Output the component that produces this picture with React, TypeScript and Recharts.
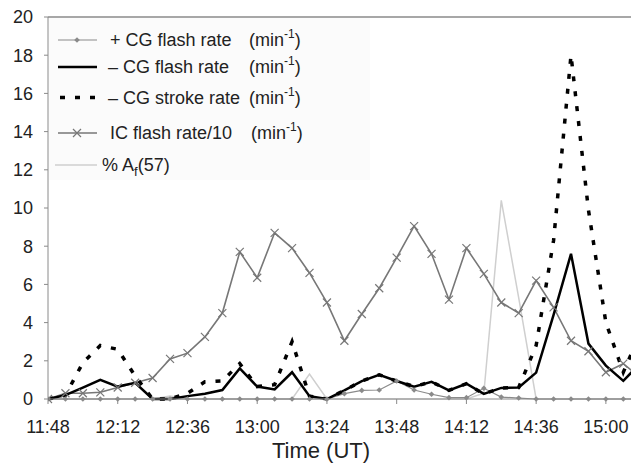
import React from 'react';
import { LineChart, Line, XAxis, YAxis, ReferenceLine } from 'recharts';

const times = [
  '11:48', '11:54', '12:00', '12:06', '12:12', '12:18', '12:24', '12:30', '12:36', '12:42',
  '12:48', '12:54', '13:00', '13:06', '13:12', '13:18', '13:24', '13:30', '13:36', '13:42',
  '13:48', '13:54', '14:00', '14:06', '14:12', '14:18', '14:24', '14:30', '14:36', '14:42',
  '14:48', '14:54', '15:00', '15:06', '15:12',
];
const plusCgFlash = [
  0, 0, 0, 0, 0, 0, 0, 0, 0, 0,
  0, 0, 0, 0, 0, 0, 0, 0.28, 0.45, 0.47,
  0.94, 0.47, 0.25, 0.07, 0.07, 0.56, 0.1, 0.05, 0, 0,
  0, 0, 0, 0, 0,
];
const minusCgFlash = [
  0, 0.2, 0.6, 1.0, 0.65, 0.85, 0, 0, 0.15, 0.28,
  0.47, 1.6, 0.65, 0.5, 1.4, 0.15, 0, 0.45, 0.94, 1.27,
  0.94, 0.65, 0.9, 0.45, 0.8, 0.27, 0.58, 0.6, 1.38, 4.4,
  7.6, 2.9, 1.75, 0.95, 1.9,
];
const minusCgStroke = [
  0, 0.2, 1.9, 2.8, 2.6, 1.2, 0, 0, 0.3, 0.9,
  0.95, 1.85, 0.65, 0.75, 3.0, 0.15, 0, 0.45, 0.94, 1.27,
  0.94, 0.65, 0.9, 0.45, 0.8, 0.27, 0.58, 0.6, 2.8, 8.3,
  18.0, 9.9, 4.0, 1.4, 3.5,
];
const icFlashDiv10 = [
  0, 0.3, 0.3, 0.35, 0.6, 0.85, 1.1, 2.1, 2.4, 3.25,
  4.5, 7.7, 6.35, 8.7, 7.9, 6.6, 5.05, 3.05, 4.45, 5.8,
  7.4, 9.05, 7.6, 5.2, 7.9, 6.55, 5.05, 4.5, 6.2, 4.8,
  3.05, 2.5, 1.4, 1.85, 1.1,
];
const afPercent = [
  0, 0, 0, 0, 0, 0, 0, 0.15, 0, 0,
  0, 0, 0, 0, 0, 1.3, 0, 0, 0, 0,
  0, 0, 0, 0, 0, 0.3, 10.4, 5.3, 0, 0,
  0, 0, 0, 0, 0,
];
const xTickLabels = ['11:48', '12:12', '12:36', '13:00', '13:24', '13:48', '14:12', '14:36', '15:00'];
const yTicks = [0, 2, 4, 6, 8, 10, 12, 14, 16, 18, 20];

const START = 11 * 60 + 48;
const toMin = (s: string) => {
  const [h, m] = s.split(':').map(Number);
  return h * 60 + m - START;
};
const fromMin = (v: number) => {
  const t = v + START;
  const h = Math.floor(t / 60);
  const m = t % 60;
  return `${h}:${m < 10 ? '0' + m : m}`;
};

const data = times.map((t, i) => ({
  t: toMin(t),
  plus: plusCgFlash[i],
  minusFlash: minusCgFlash[i],
  minusStroke: minusCgStroke[i],
  ic: icFlashDiv10[i],
  af: afPercent[i],
}));
const xTicks = xTickLabels.map(toMin);

const FONT = '"Liberation Sans", Arial, Helvetica, sans-serif';
const AXIS = '#8a8a8a';
const TXT = '#222';
const LF = 18;

const XDot = (props: any) => {
  const { cx, cy, index } = props;
  if (cx == null || cy == null) return <g key={`icx-${index}`} />;
  const r = 4;
  return (
    <path
      key={`icx-${index}`}
      d={`M${cx - r},${cy - r}L${cx + r},${cy + r}M${cx - r},${cy + r}L${cx + r},${cy - r}`}
      stroke="#777"
      strokeWidth={1.2}
      fill="none"
    />
  );
};

const DiamondDot = (props: any) => {
  const { cx, cy, index } = props;
  if (cx == null || cy == null) return <g key={`pd-${index}`} />;
  const r = 2.8;
  return (
    <path
      key={`pd-${index}`}
      d={`M${cx},${cy - r}L${cx + r},${cy}L${cx},${cy + r}L${cx - r},${cy}Z`}
      fill="#8a8a8a"
      stroke="none"
    />
  );
};

const Min1 = ({ x, y }: { x: number; y: number }) => (
  <text x={x} y={y} fontSize={LF} fill={TXT} fontFamily={FONT}>
    (min
    <tspan fontSize={12} dy={-8}>-1</tspan>
    <tspan dy={8}>)</tspan>
  </text>
);

const Legend = () => {
  const o = 8;
  const sx1 = 58 - o;
  const sx2 = 97 - o;
  const tx = 110 - o;
  const mx = 249 - o;
  return (
    <svg
      width={631}
      height={460}
      style={{ position: 'absolute', left: 0, top: 0, pointerEvents: 'none' }}
    >
      <rect x={49 - o} y={18 - o} width={321} height={162} fill="#fbfbfb" />
      <line x1={sx1} x2={sx2} y1={40 - o} y2={40 - o} stroke="#8a8a8a" strokeWidth={1.2} />
      <path d={`M${77 - o},${40 - o - 2.8}L${77 - o + 2.8},${40 - o}L${77 - o},${40 - o + 2.8}L${77 - o - 2.8},${40 - o}Z`} fill="#8a8a8a" />
      <text x={tx} y={46 - o} fontSize={LF} fill={TXT} fontFamily={FONT}>+ CG flash rate</text>
      <Min1 x={mx} y={46 - o} />

      <line x1={sx1} x2={sx2} y1={67 - o} y2={67 - o} stroke="#000" strokeWidth={2.5} />
      <text x={108 - o} y={73 - o} fontSize={LF} fill={TXT} fontFamily={FONT}>– CG flash rate</text>
      <Min1 x={mx} y={73 - o} />

      <line x1={sx1 + 2} x2={sx2} y1={97.5 - o} y2={97.5 - o} stroke="#000" strokeWidth={3.5} strokeDasharray="5 10" />
      <text x={108 - o} y={104 - o} fontSize={LF} fill={TXT} fontFamily={FONT}>– CG stroke rate</text>
      <Min1 x={mx} y={104 - o} />

      <line x1={sx1} x2={sx2} y1={133 - o} y2={133 - o} stroke="#777" strokeWidth={1.5} />
      <path d={`M${73 - o},${129 - o}L${81 - o},${137 - o}M${73 - o},${137 - o}L${81 - o},${129 - o}`} stroke="#777" strokeWidth={1.2} />
      <text x={tx} y={139 - o} fontSize={LF} fill={TXT} fontFamily={FONT}>IC flash rate/10</text>
      <Min1 x={mx + 2} y={139 - o} />

      <line x1={sx1 - 3} x2={sx2} y1={165 - o} y2={165 - o} stroke="#cfcfcf" strokeWidth={1.5} />
      <text x={102 - o} y={171 - o} fontSize={LF} fill={TXT} fontFamily={FONT}>
        % A<tspan fontSize={13} dy={5}>f</tspan>
        <tspan dy={-5}>(57)</tspan>
      </text>

      <text x={321 - o} y={458 - o} fontSize={22} fill={TXT} fontFamily={FONT} textAnchor="middle">
        Time (UT)
      </text>
    </svg>
  );
};

export default function App() {
  return (
    <div style={{ position: 'relative', width: 631, height: 460, background: '#fff' }}>
      <LineChart
        width={631}
        height={460}
        data={data}
        margin={{ top: 9, right: 0, bottom: 0, left: 0 }}
      >
        <XAxis
          dataKey="t"
          type="number"
          domain={[0, 203.4]}
          allowDataOverflow
          ticks={xTicks}
          tickFormatter={fromMin}
          interval={0}
          height={69}
          stroke={AXIS}
          tickSize={5}
          tickMargin={16}
          tick={{ fill: TXT, fontSize: 18, fontFamily: FONT }}
        />
        <YAxis
          type="number"
          domain={[0, 20]}
          ticks={yTicks}
          interval={0}
          width={40}
          stroke={AXIS}
          tickSize={4}
          tickMargin={11}
          tick={{ fill: TXT, fontSize: 18, fontFamily: FONT }}
        />
        <ReferenceLine y={20} stroke={AXIS} strokeWidth={1.5} />
        <Line dataKey="af" type="linear" stroke="#cfcfcf" strokeWidth={1.5} dot={false} isAnimationActive={false} />
        <Line dataKey="plus" type="linear" stroke="#8a8a8a" strokeWidth={1.2} dot={DiamondDot} isAnimationActive={false} />
        <Line dataKey="ic" type="linear" stroke="#777" strokeWidth={1.6} dot={XDot} isAnimationActive={false} />
        <Line
          dataKey="minusStroke"
          type="linear"
          stroke="#000"
          strokeWidth={3.5}
          strokeDasharray="5 10"
          dot={false}
          isAnimationActive={false}
        />
        <Line dataKey="minusFlash" type="linear" stroke="#000" strokeWidth={2.5} dot={false} isAnimationActive={false} />
      </LineChart>
      <Legend />
    </div>
  );
}
